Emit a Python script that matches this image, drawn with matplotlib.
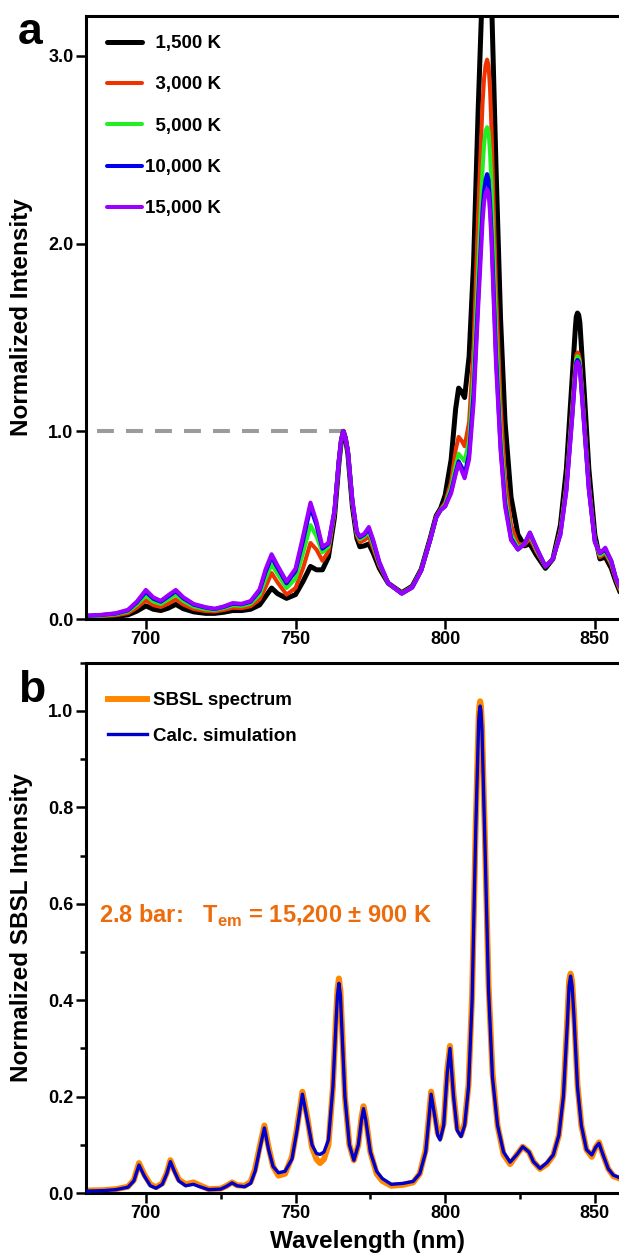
import matplotlib
matplotlib.use("Agg")
import matplotlib.pyplot as plt
from matplotlib.ticker import MultipleLocator, FormatStrFormatter

plt.rcParams['font.family'] = ['Liberation Sans', 'DejaVu Sans']
plt.rcParams['font.weight'] = 'bold'
plt.rcParams['axes.labelweight'] = 'bold'
plt.rcParams['mathtext.fontset'] = 'custom'
plt.rcParams['mathtext.rm'] = 'Liberation Sans:bold'
plt.rcParams['mathtext.bf'] = 'Liberation Sans:bold'

# ---------------- Panel a data ----------------
wl_a = [680, 685, 690, 694, 697, 700, 702.5, 705, 707.5, 710,
        712.5, 716, 720, 723, 726, 729, 732, 735, 738, 740,
        742, 744, 747, 750, 752.5, 755, 757, 759, 761, 763,
        764.5, 765.3, 766, 766.7, 767.5, 769, 770.5, 771.5, 773, 774.5, 776, 778,
        781, 785.5, 789, 792, 795, 797, 798.5, 800, 802, 803.5,
        804.5, 805.5, 806.5, 808, 809.5, 811, 812.5, 813, 813.5, 814, 814.5, 815,
        815.5, 817, 818.5, 820, 822, 824.3, 826.5, 828.3, 830.5, 833.5,
        836, 838.5, 840.5, 842.5, 843.5, 843.8, 844.2, 844.6, 845, 846.5, 848, 850,
        851.7, 853.5, 855.5, 857, 859]

t1500 = [0.008, 0.010, 0.014, 0.022, 0.042, 0.070, 0.052, 0.045, 0.058, 0.078,
         0.055, 0.038, 0.030, 0.030, 0.036, 0.045, 0.045, 0.052, 0.075, 0.120,
         0.165, 0.135, 0.110, 0.130, 0.200, 0.280, 0.262, 0.262, 0.330, 0.540,
         0.830, 0.950, 1.000, 0.960, 0.880, 0.600, 0.430, 0.385, 0.390, 0.400, 0.350, 0.270,
         0.190, 0.140, 0.175, 0.265, 0.430, 0.550, 0.590, 0.660, 0.850, 1.120,
         1.230, 1.210, 1.180, 1.400, 1.900, 2.700, 3.400, 3.520, 3.600, 3.620, 3.600, 3.480,
         3.300, 2.400, 1.600, 1.050, 0.650, 0.450, 0.390, 0.400, 0.340, 0.270,
         0.320, 0.500, 0.800, 1.300, 1.550, 1.610, 1.630, 1.620, 1.580, 1.200, 0.800, 0.450,
         0.320, 0.330, 0.270, 0.200, 0.120]

t3000 = [0.011, 0.014, 0.020, 0.031, 0.060, 0.100, 0.074, 0.064, 0.082, 0.105,
         0.077, 0.053, 0.042, 0.040, 0.048, 0.060, 0.058, 0.068, 0.105, 0.170,
         0.245, 0.195, 0.130, 0.165, 0.270, 0.405, 0.370, 0.310, 0.360, 0.560,
         0.840, 0.955, 1.000, 0.965, 0.890, 0.615, 0.445, 0.410, 0.420, 0.440, 0.375, 0.285,
         0.190, 0.138, 0.172, 0.262, 0.425, 0.545, 0.585, 0.620, 0.730, 0.900,
         0.970, 0.950, 0.920, 1.050, 1.450, 2.150, 2.750, 2.880, 2.950, 2.980, 2.950, 2.820,
         2.600, 1.750, 1.150, 0.750, 0.500, 0.400, 0.395, 0.430, 0.360, 0.280,
         0.320, 0.470, 0.720, 1.140, 1.350, 1.405, 1.420, 1.410, 1.380, 1.050, 0.720, 0.420,
         0.330, 0.350, 0.290, 0.210, 0.130]

t5000 = [0.014, 0.018, 0.025, 0.040, 0.076, 0.125, 0.093, 0.080, 0.104, 0.130,
         0.096, 0.066, 0.052, 0.048, 0.058, 0.073, 0.070, 0.082, 0.130, 0.215,
         0.290, 0.240, 0.165, 0.215, 0.350, 0.500, 0.440, 0.355, 0.385, 0.570,
         0.845, 0.958, 1.000, 0.966, 0.893, 0.625, 0.455, 0.425, 0.440, 0.465, 0.395, 0.295,
         0.190, 0.136, 0.170, 0.260, 0.422, 0.542, 0.582, 0.610, 0.700, 0.820,
         0.880, 0.860, 0.840, 0.950, 1.300, 1.850, 2.400, 2.530, 2.600, 2.620, 2.600, 2.480,
         2.300, 1.550, 1.000, 0.660, 0.450, 0.380, 0.400, 0.450, 0.370, 0.280,
         0.320, 0.460, 0.700, 1.110, 1.330, 1.385, 1.400, 1.390, 1.360, 1.030, 0.700, 0.420,
         0.340, 0.360, 0.300, 0.220, 0.140]

t10000 = [0.017, 0.021, 0.029, 0.046, 0.088, 0.145, 0.108, 0.092, 0.120, 0.148,
          0.110, 0.076, 0.060, 0.053, 0.064, 0.081, 0.078, 0.092, 0.150, 0.250,
          0.330, 0.272, 0.190, 0.255, 0.415, 0.595, 0.500, 0.375, 0.400, 0.575,
          0.848, 0.960, 1.000, 0.967, 0.895, 0.630, 0.462, 0.435, 0.450, 0.480, 0.410, 0.300,
          0.190, 0.135, 0.168, 0.258, 0.420, 0.540, 0.580, 0.600, 0.680, 0.780,
          0.840, 0.810, 0.770, 0.880, 1.200, 1.700, 2.180, 2.280, 2.340, 2.370, 2.340, 2.220,
          2.050, 1.400, 0.920, 0.620, 0.430, 0.370, 0.400, 0.460, 0.380, 0.280,
          0.320, 0.450, 0.690, 1.090, 1.310, 1.365, 1.380, 1.370, 1.340, 1.020, 0.690, 0.410,
          0.350, 0.370, 0.310, 0.220, 0.150]

t15000 = [0.018, 0.022, 0.031, 0.049, 0.093, 0.155, 0.115, 0.097, 0.127, 0.155,
          0.116, 0.080, 0.063, 0.055, 0.067, 0.085, 0.081, 0.096, 0.158, 0.265,
          0.345, 0.285, 0.200, 0.268, 0.440, 0.620, 0.520, 0.385, 0.405, 0.578,
          0.850, 0.962, 1.000, 0.968, 0.897, 0.635, 0.467, 0.440, 0.455, 0.490, 0.420, 0.305,
          0.190, 0.135, 0.167, 0.257, 0.420, 0.540, 0.580, 0.600, 0.670, 0.770,
          0.830, 0.790, 0.750, 0.850, 1.150, 1.650, 2.120, 2.220, 2.270, 2.290, 2.270, 2.160,
          2.000, 1.350, 0.900, 0.600, 0.420, 0.370, 0.400, 0.460, 0.380, 0.280,
          0.320, 0.450, 0.680, 1.080, 1.300, 1.355, 1.370, 1.360, 1.330, 1.010, 0.690, 0.410,
          0.350, 0.380, 0.310, 0.220, 0.150]

labels_a = ['  1,500 K', '  3,000 K', '  5,000 K', '10,000 K', '15,000 K']
colors_a = ['#000000', '#EE3300', '#22EE22', '#0000EE', '#9B00FF']
widths_a = [3.6, 2.9, 2.9, 2.9, 2.9]

dash_x = [683.7, 766]
dash_y = [1.0, 1.0]

# ---------------- Panel b data ----------------
wl_b = [680, 686, 690, 694, 696, 697.7, 699.5, 701.5, 703.4, 705.5,
        707, 708.2, 709.5, 711, 713.3, 715.9, 718, 721, 725, 727,
        728.8, 730.5, 733, 735, 736.5, 738, 739.6, 741, 742.5, 744.3,
        746.5, 748.8, 750.5, 752.3, 754, 755.5, 757, 758.2, 759.5, 761,
        762.5, 763.5, 764.0, 764.5, 765.0, 765.5, 766.5, 768, 769.5, 771, 772, 772.7,
        773.5, 775, 777.1, 779, 782, 786, 789.3, 791.5, 793.5, 794.5,
        795.3, 796.5, 797.5, 798.3, 799.5, 800.7, 801.6, 802.8, 804, 805.3,
        806.5, 807.8, 809, 810.2, 811.2, 811.45, 811.7, 811.95, 812.3, 813.3, 814.5, 815.8,
        817.5, 819.5, 821.7, 824, 825.9, 828, 829.5, 831.7, 834, 836.1,
        838, 839.5, 840.8, 841.4, 841.9, 842.4, 843, 844.2, 845.5, 847.2, 849, 850.3,
        851.4, 852.7, 854.5, 856.2, 859]

calc_sim = [0.004, 0.005, 0.007, 0.012, 0.025, 0.058, 0.035, 0.015, 0.010, 0.018,
            0.040, 0.065, 0.045, 0.025, 0.015, 0.018, 0.013, 0.007, 0.008, 0.014,
            0.021, 0.015, 0.013, 0.020, 0.045, 0.090, 0.135, 0.090, 0.055, 0.042,
            0.045, 0.070, 0.130, 0.205, 0.150, 0.100, 0.082, 0.080, 0.085, 0.110,
            0.220, 0.350, 0.410, 0.435, 0.410, 0.340, 0.200, 0.100, 0.068, 0.100, 0.150, 0.175,
            0.150, 0.085, 0.045, 0.030, 0.018, 0.020, 0.024, 0.040, 0.085, 0.150,
            0.205, 0.160, 0.120, 0.110, 0.140, 0.250, 0.300, 0.200, 0.130, 0.117,
            0.140, 0.220, 0.400, 0.750, 0.980, 1.000, 1.010, 1.000, 0.960, 0.720, 0.420, 0.240,
            0.140, 0.085, 0.064, 0.080, 0.096, 0.085, 0.065, 0.051, 0.063, 0.079,
            0.120, 0.200, 0.350, 0.430, 0.450, 0.430, 0.370, 0.220, 0.140, 0.090, 0.079, 0.095,
            0.103, 0.080, 0.050, 0.037, 0.030]

sbsl = [0.005, 0.006, 0.008, 0.013, 0.027, 0.062, 0.038, 0.018, 0.012, 0.020,
        0.042, 0.068, 0.048, 0.028, 0.018, 0.022, 0.016, 0.008, 0.009, 0.015,
        0.022, 0.016, 0.015, 0.023, 0.050, 0.095, 0.140, 0.095, 0.055, 0.036,
        0.040, 0.075, 0.135, 0.210, 0.155, 0.095, 0.070, 0.062, 0.070, 0.100,
        0.220, 0.360, 0.420, 0.445, 0.420, 0.350, 0.200, 0.100, 0.068, 0.100, 0.155, 0.180,
        0.155, 0.085, 0.040, 0.025, 0.015, 0.017, 0.022, 0.040, 0.090, 0.155,
        0.210, 0.165, 0.125, 0.115, 0.145, 0.255, 0.305, 0.205, 0.135, 0.120,
        0.145, 0.225, 0.410, 0.760, 0.990, 1.010, 1.020, 1.010, 0.970, 0.730, 0.430, 0.250,
        0.140, 0.080, 0.060, 0.080, 0.096, 0.085, 0.065, 0.050, 0.060, 0.078,
        0.120, 0.205, 0.360, 0.440, 0.455, 0.440, 0.380, 0.225, 0.140, 0.090, 0.075, 0.095,
        0.105, 0.080, 0.050, 0.035, 0.028]

# ---------------- Figure ----------------
W, H = 619, 1255
fig = plt.figure(figsize=(W / 100, H / 100), dpi=100)

ax_left_px = 86
ax_w_px = 563
XMIN, XMAX = 680, 868.1

axA = fig.add_axes([ax_left_px / W, 1 - 619 / H, ax_w_px / W, (619 - 15.7) / H])
axB = fig.add_axes([ax_left_px / W, 1 - 1193 / H, ax_w_px / W, (1193 - 662.7) / H])

# Panel a
axA.plot(dash_x, dash_y, color='#9B9B9B', lw=2.9, dashes=(4.2, 3.0), zorder=1)
series_a = [t1500, t3000, t5000, t10000, t15000]
handles = []
for ys, c, lw, lab in zip(series_a, colors_a, widths_a, labels_a):
    h, = axA.plot(wl_a, ys, color=c, lw=lw, label=lab, solid_joinstyle='round',
                  solid_capstyle='round', zorder=2)
    handles.append(h)

axA.set_xlim(XMIN, XMAX)
axA.set_ylim(0, 3.214)
axA.yaxis.set_major_locator(MultipleLocator(1.0))
axA.yaxis.set_major_formatter(FormatStrFormatter('%.1f'))
axA.xaxis.set_major_locator(MultipleLocator(50))
axA.set_ylabel('Normalized Intensity', fontsize=17.5, fontweight='bold')
axA.yaxis.set_label_coords(-0.094, 0.5)
axA.legend(handles=handles, loc='upper left', bbox_to_anchor=(0.0373, 0.968),
           frameon=False, prop={'size': 13.5, 'weight': 'bold'},
           handlelength=1.87, handletextpad=0.16, labelspacing=1.29,
           borderpad=0, borderaxespad=0)

# Panel b
axB.plot(wl_b, sbsl, color='#FF8800', lw=4.3, label='SBSL spectrum',
         solid_joinstyle='round', zorder=2)
axB.plot(wl_b, calc_sim, color='#0000CC', lw=2.4, label='Calc. simulation',
         solid_joinstyle='round', zorder=3)
axB.set_xlim(XMIN, XMAX)
axB.set_ylim(0, 1.10)
axB.yaxis.set_major_locator(MultipleLocator(0.2))
axB.yaxis.set_minor_locator(MultipleLocator(0.1))
axB.yaxis.set_major_formatter(FormatStrFormatter('%.1f'))
axB.xaxis.set_major_locator(MultipleLocator(50))
axB.xaxis.set_minor_locator(MultipleLocator(25))
axB.set_ylabel('Normalized SBSL Intensity', fontsize=17.5, fontweight='bold')
axB.yaxis.set_label_coords(-0.094, 0.5)
axB.set_xlabel('Wavelength (nm)', fontsize=17.5, fontweight='bold')
axB.xaxis.set_label_coords(0.5, -0.070)
axB.legend(loc='upper left', bbox_to_anchor=(0.039, 0.9447),
           frameon=False, prop={'size': 13.5, 'weight': 'bold'},
           handlelength=2.08, handletextpad=0.32, labelspacing=0.99,
           borderpad=0, borderaxespad=0)
axB.text(684.3, 0.56, '2.8 bar:   T$_{\\mathbf{em}}$ = 15,200 \u00b1 900 K',
         color='#EC6C0C', fontsize=17, fontweight='bold', ha='left', va='baseline')

for ax in (axA, axB):
    for s in ax.spines.values():
        s.set_linewidth(2.2)
    ax.spines['right'].set_visible(False)
    ax.tick_params(which='major', direction='out', length=7, width=1.8,
                   labelsize=13, pad=2)
    ax.tick_params(which='minor', direction='out', length=4, width=1.8)
    for lbl in ax.get_xticklabels() + ax.get_yticklabels():
        lbl.set_fontweight('bold')

fig.text(18 / W, 1 - 44 / H, 'a', fontsize=32, fontweight='bold', va='baseline')
fig.text(18 / W, 1 - 702 / H, 'b', fontsize=32, fontweight='bold', va='baseline')

fig.savefig('out.png', dpi=100)
